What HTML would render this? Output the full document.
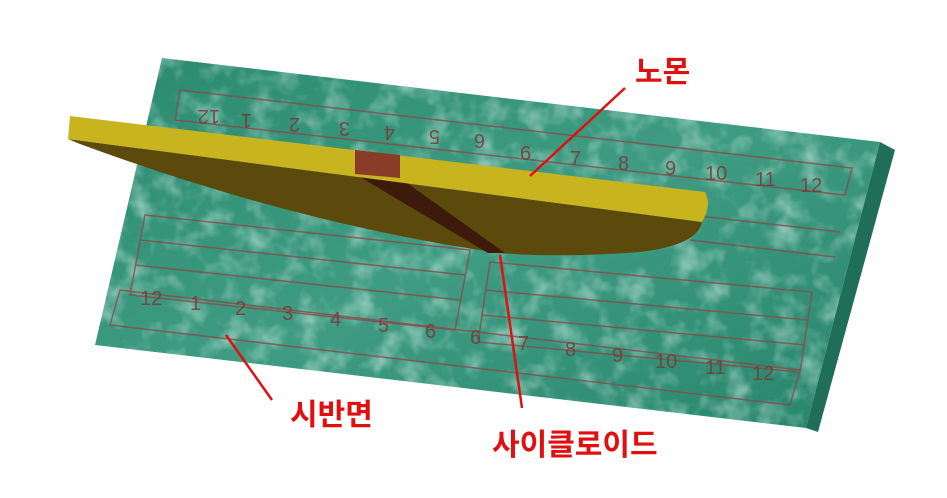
<!DOCTYPE html>
<html><head><meta charset="utf-8"><style>
html,body{margin:0;padding:0;background:#fff;width:947px;height:498px;overflow:hidden}
svg{display:block}
.lbl{font-family:"Liberation Sans","Noto Sans CJK KR",sans-serif;font-size:30px;font-weight:bold;fill:#e01010}
.num{font-family:"Liberation Sans",sans-serif;font-size:20px;fill:#7a3a3a;opacity:.85}
</style></head><body>
<svg width="947" height="498" viewBox="0 0 947 498">
<defs>
<linearGradient id="g1" x1="0" y1="0" x2="1" y2="1">
<stop offset="0" stop-color="#2a8a6e"/><stop offset=".5" stop-color="#3f9c82"/><stop offset="1" stop-color="#27856b"/>
</linearGradient>
<filter id="tex"><feTurbulence type="fractalNoise" baseFrequency="0.04" numOctaves="3" seed="3"/><feColorMatrix values="0 0 0 0 0.7  0 0 0 0 0.9  0 0 0 0 0.85  0 0 0 1.2 -0.55"/><feComposite in2="SourceGraphic" operator="in"/></filter>
</defs>
<g>
<polygon points="880,142 895,150 818,432 806,428" fill="#1f6e58"/>
<polygon points="162,58 880,142 806,428 95,345" fill="url(#g1)"/>
<polygon points="162,58 880,142 806,428 95,345" fill="#fff" filter="url(#tex)"/>
<g fill="none" stroke="#8a4a4a" stroke-width="1.5" opacity=".8">
<polygon points="180,90 852,168 845,195 175,120"/>
<polygon points="145,215 470,250 455,330 130,295"/>
<polygon points="490,262 812,292 800,372 478,342"/>
<polygon points="120,290 800,370 790,405 110,325"/>
<line x1="140" y1="240" x2="465" y2="275"/><line x1="135" y1="265" x2="460" y2="300"/>
<line x1="485" y1="290" x2="808" y2="320"/><line x1="482" y1="315" x2="805" y2="345"/>
<line x1="690" y1="215" x2="840" y2="232"/><line x1="690" y1="240" x2="835" y2="257"/>
</g>
<g class="num">
<text x="140" y="305">12</text><text x="190" y="310">1</text><text x="235" y="315">2</text><text x="282" y="320">3</text><text x="330" y="326">4</text><text x="378" y="332">5</text><text x="425" y="338">6</text><text x="470" y="344">6</text><text x="518" y="350">7</text><text x="565" y="356">8</text><text x="612" y="362">9</text><text x="655" y="368">10</text><text x="705" y="374">11</text><text x="752" y="380">12</text>
<text x="520" y="160">6</text><text x="570" y="165">7</text><text x="618" y="170">8</text><text x="665" y="175">9</text><text x="705" y="180">10</text><text x="755" y="186">11</text><text x="800" y="192">12</text>
<g transform="rotate(180 300 120)"><text x="380" y="130">12</text><text x="348" y="126">1</text><text x="300" y="122">2</text><text x="250" y="118">3</text><text x="205" y="114">4</text><text x="160" y="110">5</text><text x="115" y="106">6</text></g>
</g>
</g>
<g>
<path d="M68,139 L702,222 Q698,245 640,252 Q560,258 500,253 Q300,225 80,144 Z" fill="#5c4a0c"/>
<path d="M355,174 L400,178 L505,253 L488,253 Z" fill="#3d1a0c"/>
<path d="M70,116 L705,192 Q712,205 702,222 L68,139 Z" fill="#c8b41e"/>
<polygon points="355,150 400,155 400,178 355,174" fill="#8a3c28"/>
</g>
<g>
<line x1="625" y1="88" x2="530" y2="176" stroke="#e01010" stroke-width="2.5"/>
<text class="lbl" x="635" y="82">노몬</text>
</g>
<g>
<line x1="272" y1="400" x2="226" y2="335" stroke="#e01010" stroke-width="2.5"/>
<text class="lbl" x="290" y="425">시반면</text>
</g>
<g>
<line x1="522" y1="408" x2="500" y2="255" stroke="#e01010" stroke-width="2.5"/>
<text class="lbl" x="492" y="455">사이클로이드</text>
</g>
</svg>
</body></html>
